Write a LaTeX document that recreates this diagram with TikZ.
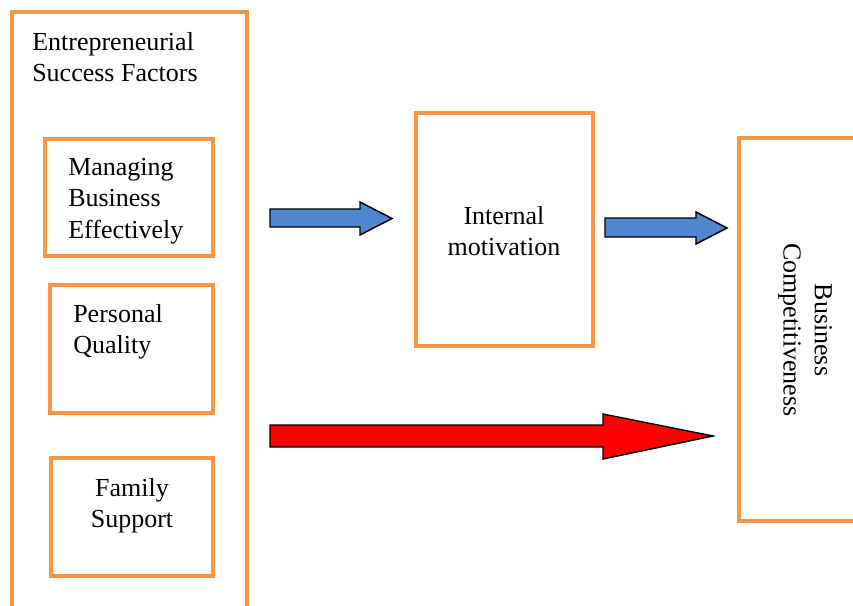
\documentclass[tikz,border=0pt]{standalone}
\usepackage{fontspec}
\setmainfont{Liberation Serif}
\definecolor{boxorange}{HTML}{F79646}
\definecolor{arrowblue}{HTML}{4F86CF}
\begin{document}
\begin{tikzpicture}[x=0.75pt,y=-0.75pt,
  obox/.style={draw=boxorange,line width=3.2pt},
  lbl/.style={font=\fontsize{19.5}{23.5}\selectfont,inner sep=0pt},
  blockarrow/.style={draw=black,line width=1.1pt,line join=miter}]
\useasboundingbox (0,0) rectangle (853,606);
\clip (0,0) rectangle (853,606);
% boxes
\draw[obox] (12,12) rectangle (247,620) coordinate (outerbr);
\coordinate (outer) at (12,12);
\draw[obox] (45,139) rectangle (213,256);
\draw[obox] (50,285) rectangle (213,413);
\draw[obox] (51,458) rectangle (213,576);
\draw[obox] (416,113) rectangle (593,346);
\draw[obox] (739,138) rectangle (880,521);
% texts
\node[lbl,anchor=base west,align=left] (esf) at (32,82) {Entrepreneurial\\Success Factors};
\node[lbl,anchor=west,align=left] (mbe) at (68,201) {Managing\\Business\\Effectively};
\node[lbl,anchor=west,align=left] (pq) at (73,332) {Personal\\Quality};
\node[lbl,align=center] (fs) at (132,506) {Family\\Support};
\node[lbl,align=center] (im) at (504,231) {Internal\\motivation};
\node[lbl,align=center,rotate=-90] (bc) at (805,330) {Business\\Competitiveness};
% block arrows
\draw[blockarrow,fill=arrowblue] (270,209) -- (360,209) -- (360,202) -- (392,218.5) -- (360,235) -- (360,227) -- (270,227) -- cycle;
\draw[blockarrow,fill=arrowblue] (605,218) -- (696,218) -- (696,212) -- (727,228) -- (696,244) -- (696,237) -- (605,237) -- cycle;
\draw[blockarrow,fill=red] (270,425) -- (603,425) -- (603,414) -- (713,436) -- (603,459) -- (603,447) -- (270,447) -- cycle;
\end{tikzpicture}
\end{document}
